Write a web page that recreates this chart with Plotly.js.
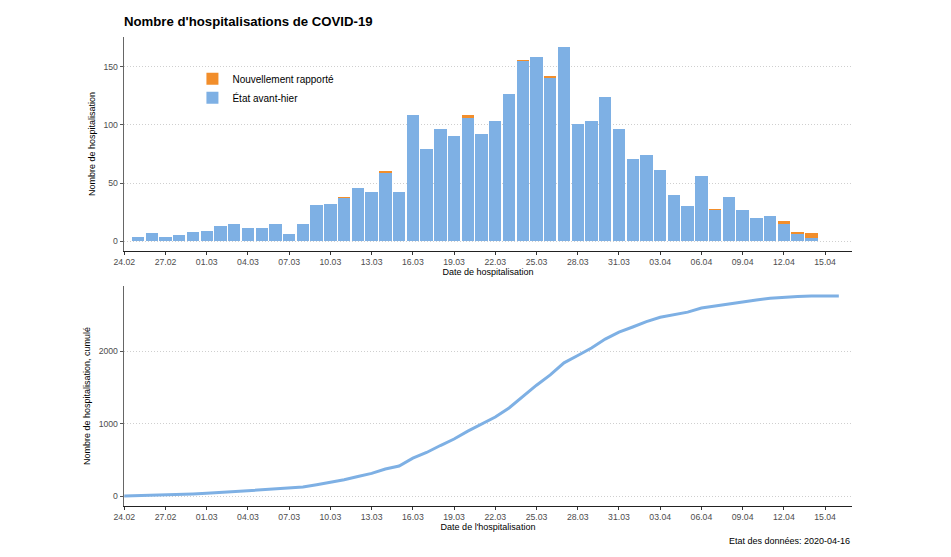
<!DOCTYPE html>
<html><head><meta charset="utf-8">
<script src="https://cdn.plot.ly/plotly-3.0.1.min.js"></script>
<style>html,body{margin:0;padding:0;background:#fff}#chart{width:951px;height:557px}</style>
</head><body><div id="chart"></div>
<script>
const dates = ['2020-02-25','2020-02-26','2020-02-27','2020-02-28','2020-02-29',
'2020-03-01','2020-03-02','2020-03-03','2020-03-04','2020-03-05','2020-03-06','2020-03-07','2020-03-08','2020-03-09','2020-03-10',
'2020-03-11','2020-03-12','2020-03-13','2020-03-14','2020-03-15','2020-03-16','2020-03-17','2020-03-18','2020-03-19','2020-03-20',
'2020-03-21','2020-03-22','2020-03-23','2020-03-24','2020-03-25','2020-03-26','2020-03-27','2020-03-28','2020-03-29','2020-03-30','2020-03-31',
'2020-04-01','2020-04-02','2020-04-03','2020-04-04','2020-04-05','2020-04-06','2020-04-07','2020-04-08','2020-04-09','2020-04-10',
'2020-04-11','2020-04-12','2020-04-13','2020-04-14'];
const etatAvantHier = [4,7,4,5,8,
9,13,15,11,11,15,6,15,31,32,
37,46,42,59,42,108,79,96,90,106,
92,103,126,155,158,140,167,101,103,124,96,
71,74,61,40,30,56,27,38,27,20,
22,15,6,3];
const nouvellementRapporte = [0,0,0,0,0,
0,0,0,0,0,0,0,0,0,0,
1,0,0,1,0,0,0,0,0,2,
0,0,0,1,0,2,0,0,0,0,0,
0,0,0,0,0,0,1,0,0,0,
0,2,2,4];
const cumulDates = ['2020-02-24','2020-02-25','2020-02-26','2020-02-27','2020-02-28','2020-02-29',
'2020-03-01','2020-03-02','2020-03-03','2020-03-04','2020-03-05','2020-03-06','2020-03-07','2020-03-08','2020-03-09','2020-03-10',
'2020-03-11','2020-03-12','2020-03-13','2020-03-14','2020-03-15','2020-03-16','2020-03-17','2020-03-18','2020-03-19','2020-03-20',
'2020-03-21','2020-03-22','2020-03-23','2020-03-24','2020-03-25','2020-03-26','2020-03-27','2020-03-28','2020-03-29','2020-03-30','2020-03-31',
'2020-04-01','2020-04-02','2020-04-03','2020-04-04','2020-04-05','2020-04-06','2020-04-07','2020-04-08','2020-04-09','2020-04-10',
'2020-04-11','2020-04-12','2020-04-13','2020-04-14','2020-04-15','2020-04-16'];
const cumulValues = [0,4,11,15,20,28,
37,50,65,76,87,102,108,123,154,186,
224,270,312,372,414,522,601,697,787,895,
987,1090,1216,1372,1530,1672,1839,1940,2043,2167,2263,
2334,2408,2469,2509,2539,2595,2623,2661,2688,2708,
2730,2747,2755,2762,2762,2762];
const topTicks = [0,50,100,150];
const bottomTicks = [0,1000,2000];

const blue = '#7eb0e4', orange = '#f28e2b';
const FONT = 'Liberation Sans, Arial, sans-serif';

const traces = [
  {type:'bar', x:dates, y:etatAvantHier, name:'État avant-hier', marker:{color:blue, line:{width:0}}, xaxis:'x', yaxis:'y', hoverinfo:'none'},
  {type:'bar', x:dates, y:nouvellementRapporte, name:'Nouvellement rapporté', marker:{color:orange, line:{width:0}}, xaxis:'x', yaxis:'y', hoverinfo:'none'},
  {type:'scatter', mode:'lines', x:cumulDates, y:cumulValues, line:{color:blue, width:3}, xaxis:'x2', yaxis:'y2', showlegend:false, hoverinfo:'none'}
];

const xCommon = {
  type:'date', range:['2020-02-23 23:30','2020-04-16 23:00'],
  tick0:'2020-02-24', dtick:3*86400000, tickformat:'%d.%m',
  showline:true, linecolor:'#222', linewidth:1, ticks:'outside', ticklen:3, tickcolor:'#333', tickwidth:1,
  showgrid:false, zeroline:false, tickfont:{size:8.7, color:'#4d4d4d'}
};
const yCommon = {
  showline:true, linecolor:'#666', linewidth:1.3, ticks:'outside', ticklen:3, tickcolor:'#555',
  showgrid:true, gridcolor:'#cfcfcf', griddash:'1px,2px', gridwidth:1, zeroline:false,
  tickfont:{size:8.7, color:'#4d4d4d'}
};

const layout = {
  width:951, height:557,
  margin:{l:124, r:99, t:37, b:51},
  paper_bgcolor:'#fff', plot_bgcolor:'#fff',
  font:{family:FONT, size:9, color:'#000'},
  title:{text:"Nombre d'hospitalisations de COVID-19", font:{size:13.2, color:'#000', weight:'bold', family:FONT},
    x:124/951, xref:'container', xanchor:'left', y:1-21/557, yref:'container', yanchor:'middle'},
  barmode:'stack', bargap:0.1,
  showlegend:true,
  legend:{x:0.094, y:0.942, xanchor:'left', yanchor:'top', traceorder:'reversed', font:{size:10}, bgcolor:'rgba(0,0,0,0)', tracegroupgap:0, itemwidth:30},
  xaxis:Object.assign({}, xCommon, {anchor:'y', domain:[0,1], title:{text:'Date de hospitalisation', font:{size:9}, standoff:2}}),
  yaxis:Object.assign({}, yCommon, {anchor:'x', domain:[0.5437,1], range:[-8.35,175.35], tickvals:topTicks,
    title:{text:'Nombre de hospitalisation', font:{size:9}, standoff:6}}),
  xaxis2:Object.assign({}, xCommon, {anchor:'y2', domain:[0,1], title:{text:"Date de l'hospitalisation", font:{size:9}, standoff:2}}),
  yaxis2:Object.assign({}, yCommon, {anchor:'x2', domain:[0,0.4691], range:[-138,2900], tickvals:bottomTicks,
    title:{text:'Nombre de hospitalisation, cumulé', font:{size:9}, standoff:6}}),
  annotations:[{text:'Etat des données: 2020-04-16', xref:'paper', yref:'paper', x:1, xanchor:'right', y:-35/469, yanchor:'middle',
    showarrow:false, font:{size:9, color:'#000'}}]
};

Plotly.newPlot('chart', traces, layout, {displayModeBar:false, staticPlot:true});
</script>
</body></html>
